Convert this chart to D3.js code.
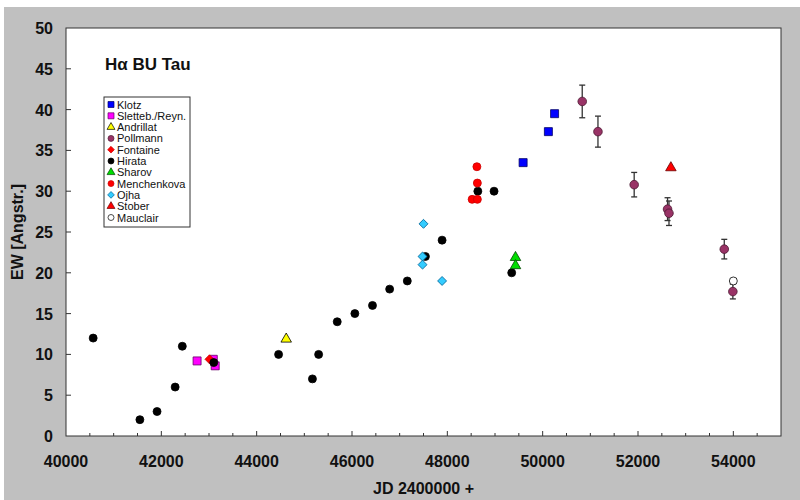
<!DOCTYPE html>
<html>
<head>
<meta charset="utf-8">
<script src="https://cdn.jsdelivr.net/npm/d3@7"></script>
<style>
  body { margin: 0; background: #fff; }
  svg { display: block; font-family: "Liberation Sans", Arial, sans-serif; }
</style>
</head>
<body>
<div id="chart"></div>
<script>
// data
const klotzJD = [49590, 50120, 50250];
const klotzEW = [33.5, 37.3, 39.5];
const slettebJD = [42750, 43090, 43130];
const slettebEW = [9.2, 9.4, 8.6];
const andrillatJD = [44620];
const andrillatEW = [12];
const pollmannJD = [50830, 51160, 51920, 52620, 52650, 53810, 53990];
const pollmannEW = [41, 37.3, 30.8, 27.8, 27.3, 22.9, 17.7];
const pollmannErr = [2, 1.9, 1.5, 1.4, 1.5, 1.2, 0.9];
const fontaineJD = [43010];
const fontaineEW = [9.4];
const hirataJD = [40570, 41550, 41910, 42290, 42440, 43100, 44460, 45170, 45300, 45690, 46060, 46430, 46790, 47160, 47540, 47890, 48640, 48980, 49350];
const hirataEW = [12, 2, 3, 6, 11, 9, 10, 7, 10, 14, 15, 16, 18, 19, 22, 24, 30, 30, 20];
const sharovJD = [49430, 49430];
const sharovEW = [22, 21];
const menchenkovaJD = [48620, 48630, 48520, 48630];
const menchenkovaEW = [33, 31, 29, 29];
const ojhaJD = [47500, 47480, 47480, 47890];
const ojhaEW = [26, 22, 21, 19];
const stoberJD = [52690];
const stoberEW = [33];
const mauclairJD = [54000];
const mauclairEW = [19];

const xTicks = [40000, 42000, 44000, 46000, 48000, 50000, 52000, 54000];
const yTicks = [0, 5, 10, 15, 20, 25, 30, 35, 40, 45, 50];

const zip = (xs, ys, es) => xs.map((x, i) => ({x, y: ys[i], e: es ? es[i] : null}));

const series = [
  {name: "Klotz", shape: "square", fill: "#0000ff", stroke: "#000066", pts: zip(klotzJD, klotzEW)},
  {name: "Sletteb./Reyn.", shape: "square", fill: "#ff00ff", stroke: "#660066", pts: zip(slettebJD, slettebEW)},
  {name: "Andrillat", shape: "triangle", fill: "#ffff00", stroke: "#000", pts: zip(andrillatJD, andrillatEW)},
  {name: "Pollmann", shape: "circle", fill: "#993366", stroke: "#4d1a33", big: true, pts: zip(pollmannJD, pollmannEW, pollmannErr)},
  {name: "Fontaine", shape: "diamond", fill: "#ff0000", stroke: "#cc0000", pts: zip(fontaineJD, fontaineEW)},
  {name: "Hirata", shape: "circle", fill: "#000", stroke: "#000", pts: zip(hirataJD, hirataEW)},
  {name: "Sharov", shape: "triangle", fill: "#00dd00", stroke: "#004400", pts: zip(sharovJD, sharovEW)},
  {name: "Menchenkova", shape: "circle", fill: "#ff0000", stroke: "#cc0000", pts: zip(menchenkovaJD, menchenkovaEW)},
  {name: "Ojha", shape: "diamond", fill: "#33ccff", stroke: "#006699", pts: zip(ojhaJD, ojhaEW)},
  {name: "Stober", shape: "triangle", fill: "#ff0000", stroke: "#660000", pts: zip(stoberJD, stoberEW)},
  {name: "Mauclair", shape: "circle", fill: "#ffffff", stroke: "#000", pts: zip(mauclairJD, mauclairEW)}
];

const W = 800, H = 500;
const pLeft = 66, pRight = 781, pTop = 28, pBottom = 436;

const svg = d3.select("#chart").append("svg")
  .attr("width", W).attr("height", H);

// grey chart area + white plot area
svg.append("rect").attr("x", 4).attr("y", 7).attr("width", W - 4).attr("height", H - 7).attr("fill", "#c0c0c0");
svg.append("rect").attr("x", pLeft).attr("y", pTop).attr("width", pRight - pLeft).attr("height", pBottom - pTop)
  .attr("fill", "#fff").attr("stroke", "#333").attr("stroke-width", 1);

const x = d3.scaleLinear().domain([40000, 55000]).range([pLeft, pRight]);
const y = d3.scaleLinear().domain([0, 50]).range([pBottom, pTop]);

// x ticks (inside), minor every 500
const g = svg.append("g");
g.selectAll(".xminor").data(d3.range(40500, 55000, 500)).enter().append("line")
  .attr("x1", d => x(d)).attr("x2", d => x(d))
  .attr("y1", pBottom).attr("y2", d => pBottom - (d % 2000 === 0 ? 5 : 3))
  .attr("stroke", "#333");
g.selectAll(".ytk").data(yTicks.slice(1, -1)).enter().append("line")
  .attr("x1", pLeft).attr("x2", pLeft + 5)
  .attr("y1", d => y(d)).attr("y2", d => y(d))
  .attr("stroke", "#333");

g.selectAll(".xl").data(xTicks).enter().append("text")
  .attr("x", d => x(d)).attr("y", 467)
  .attr("text-anchor", "middle")
  .attr("font-size", 16).attr("font-weight", "bold").attr("fill", "#111")
  .text(d => d);
g.selectAll(".yl").data(yTicks).enter().append("text")
  .attr("x", 53).attr("y", d => y(d) + 6)
  .attr("text-anchor", "end")
  .attr("font-size", 16).attr("font-weight", "bold").attr("fill", "#111")
  .text(d => d);

svg.append("text").attr("x", (pLeft + pRight) / 2).attr("y", 494)
  .attr("text-anchor", "middle").attr("font-size", 16).attr("font-weight", "bold").attr("fill", "#111")
  .text("JD 2400000 +");
svg.append("text").attr("transform", `translate(23, ${(pTop + pBottom) / 2}) rotate(-90)`)
  .attr("text-anchor", "middle").attr("font-size", 16).attr("font-weight", "bold").attr("fill", "#111")
  .text("EW [Angstr.]");

svg.append("text").attr("x", 105).attr("y", 70)
  .attr("font-size", 17).attr("font-weight", "bold").attr("fill", "#111")
  .text("Hα BU Tau");

// marker paths
const symPath = (shape, scale) => {
  const s = scale || 1;
  if (shape === "square") return d3.symbol(d3.symbolSquare, 64 * s * s)();
  if (shape === "triangle") return d3.symbol(d3.symbolTriangle, 48 * s * s)();
  if (shape === "diamond") return d3.symbol(d3.symbolSquare, 40 * s * s)();
  return d3.symbol(d3.symbolCircle, 50 * s * s)();
};
const rot = shape => shape === "diamond" ? " rotate(45)" : "";

// error bars (Pollmann)
series.forEach(s => {
  s.pts.filter(p => p.e != null).forEach(p => {
    const eb = svg.append("g").attr("stroke", "#333").attr("stroke-width", 1.3);
    eb.append("line").attr("x1", x(p.x)).attr("x2", x(p.x)).attr("y1", y(p.y - p.e)).attr("y2", y(p.y + p.e));
    eb.append("line").attr("x1", x(p.x) - 3).attr("x2", x(p.x) + 3).attr("y1", y(p.y - p.e)).attr("y2", y(p.y - p.e));
    eb.append("line").attr("x1", x(p.x) - 3).attr("x2", x(p.x) + 3).attr("y1", y(p.y + p.e)).attr("y2", y(p.y + p.e));
  });
});

series.forEach(s => {
  svg.append("g").selectAll("path").data(s.pts).enter().append("path")
    .attr("d", symPath(s.shape, s.big ? 1.08 : 1))
    .attr("transform", d => `translate(${x(d.x)},${y(d.y) + (s.shape === "triangle" ? 1 : 0)})${rot(s.shape)}`)
    .attr("fill", s.fill).attr("stroke", s.stroke).attr("stroke-width", 0.8);
});

// legend
const lg = svg.append("g");
lg.append("rect").attr("x", 104).attr("y", 97).attr("width", 86).attr("height", 130)
  .attr("fill", "#fff").attr("stroke", "#333");
series.forEach((s, i) => {
  const ly = 104.5 + i * 11.3;
  lg.append("path").attr("d", symPath(s.shape, 0.75))
    .attr("transform", `translate(111,${ly})${rot(s.shape)}`)
    .attr("fill", s.fill).attr("stroke", s.stroke).attr("stroke-width", 0.7);
  lg.append("text").attr("x", 117).attr("y", ly + 4)
    .attr("font-size", 11).attr("fill", "#111").text(s.name);
});
</script>
</body>
</html>
